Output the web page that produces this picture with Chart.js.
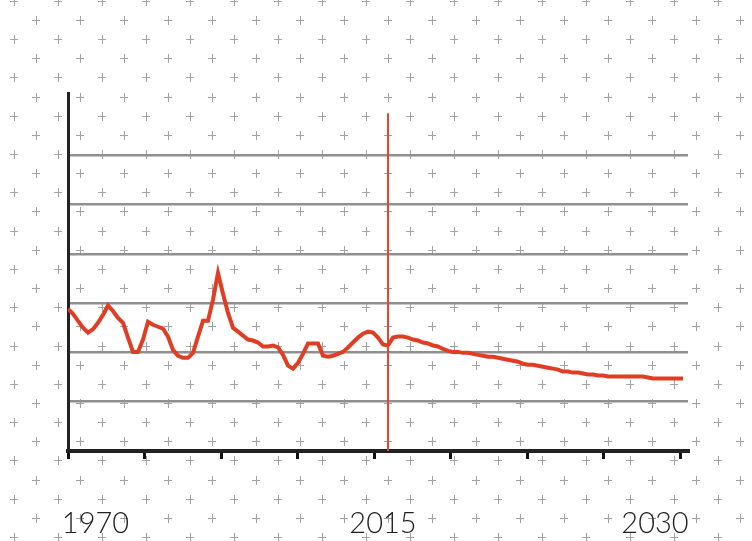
<!DOCTYPE html>
<html>
<head>
<meta charset="utf-8">
<script src="https://cdn.jsdelivr.net/npm/chart.js@4/dist/chart.umd.min.js"></script>
<style>
  body { margin: 0; background: #fff; }
  canvas { display: block; }
</style>
</head>
<body>
<canvas id="lineChart" width="752" height="541"></canvas>
<script>
// historic series, one value per step (left of the marker)
const historic = [
  28.8, 27.8, 26.4, 25.0, 24.0, 24.7, 26.0, 27.6, 29.5, 28.4,
  27.0, 26.0, 23.0, 20.1, 20.1, 22.6, 26.2, 25.6, 25.2, 24.8,
  23.2, 20.5, 19.3, 18.9, 18.9, 19.9, 23.2, 26.4, 26.4, 30.7,
  36.1, 31.9, 28.0, 25.0, 24.2, 23.4, 22.6, 22.4, 22.0, 21.2,
  21.2, 21.4, 21.0, 19.5, 17.3, 16.7, 17.9, 19.7, 21.8, 21.8,
  21.8, 19.3, 19.1, 19.3, 19.7, 20.1, 21.0, 22.0, 23.0, 23.8,
  24.2, 24.0, 23.0, 21.6, 21.4
];
// projection, starts where the historic series ends
const projection = [
  21.4, 23.0, 23.2, 23.2, 23.0, 22.6, 22.4, 22.0, 21.8, 21.4,
  21.2, 20.7, 20.3, 20.1, 20.1, 19.9, 19.9, 19.7, 19.5, 19.3,
  19.1, 19.1, 18.9, 18.7, 18.5, 18.3, 18.1, 17.7, 17.5, 17.5,
  17.3, 17.1, 16.9, 16.7, 16.5, 16.1, 16.1, 15.9, 15.9, 15.7,
  15.5, 15.5, 15.3, 15.3, 15.1, 15.1, 15.1, 15.1, 15.1, 15.1,
  15.1, 15.1, 14.9, 14.7, 14.7, 14.7, 14.7, 14.7, 14.7, 14.7
];
const markerStep = historic.length - 1;
const markerTop = 68.5;
const tickLabels = ["1970", "2015", "2030"];

const red = "#e03d25";

// "+" pattern behind the chart
const crossPattern = {
  id: "crossPattern",
  beforeDraw(chart) {
    const ctx = chart.ctx;
    ctx.save();
    ctx.fillStyle = "#fff";
    ctx.fillRect(0, 0, chart.width, chart.height);
    ctx.strokeStyle = "#a3a3a3";
    ctx.lineWidth = 1;
    ctx.beginPath();
    for (let k = 0; k < 30; k++) {
      const y = Math.round(0.85 + 19.15 * k) + 0.5;
      const x0 = k % 2 === 0 ? 14 : 36;
      for (let x = x0; x < chart.width + 10; x += 44) {
        ctx.moveTo(x - 4, y);
        ctx.lineTo(x + 4, y);
        ctx.moveTo(x + 0.5, y - 4.5);
        ctx.lineTo(x + 0.5, y + 4.5);
      }
    }
    ctx.stroke();
    ctx.restore();
  }
};

new Chart(document.getElementById("lineChart"), {
  type: "line",
  data: {
    datasets: [
      {
        data: historic.map((v, i) => ({ x: i, y: v })),
        borderColor: red,
        borderWidth: 4,
        pointRadius: 0,
        order: 0
      },
      {
        data: projection.map((v, i) => ({ x: markerStep + i, y: v })),
        borderColor: red,
        borderWidth: 4,
        pointRadius: 0,
        order: 0
      },
      {
        data: [{ x: markerStep, y: 0 }, { x: markerStep, y: markerTop }],
        borderColor: "#e8452f",
        borderWidth: 2,
        pointRadius: 0,
        order: 1
      }
    ]
  },
  options: {
    responsive: false,
    devicePixelRatio: 1,
    animation: false,
    layout: { padding: { left: 68, right: 64, top: 93, bottom: 0 } },
    plugins: { legend: { display: false }, tooltip: { enabled: false } },
    scales: {
      x: {
        type: "linear",
        min: 0,
        max: 124,
        afterBuildTicks: s => { s.ticks = [0, 1, 2, 3, 4, 5, 6, 7, 8].map(k => ({ value: k * 15.3 })); },
        afterFit: s => { s.height = 8; },
        ticks: { display: false },
        grid: { drawOnChartArea: false, tickLength: 8, color: "#111", lineWidth: 3 },
        border: { color: "#222", width: 4 }
      },
      xl: {
        type: "linear",
        position: "bottom",
        min: 0,
        max: 124,
        afterBuildTicks: s => { s.ticks = [5.5, 63, 117.4].map(v => ({ value: v })); },
        afterFit: s => { s.height = 82; },
        grid: { display: false },
        border: { display: false },
        ticks: {
          autoSkip: false,
          maxRotation: 0,
          padding: 39,
          color: "#222",
          font: { family: "Lato", size: 29, weight: 300 },
          callback: (v, i) => tickLabels[i]
        }
      },
      y: {
        min: 0,
        max: 72.6,
        afterFit: s => { s.width = 0; },
        ticks: { display: false, stepSize: 10 },
        grid: {
          drawTicks: false,
          lineWidth: 2.5,
          color: c => (c.tick.value >= 10 && c.tick.value <= 60 ? "#8f8f8f" : "rgba(0,0,0,0)")
        },
        border: { color: "#222", width: 3 }
      }
    }
  },
  plugins: [crossPattern]
});
</script>
</body>
</html>
